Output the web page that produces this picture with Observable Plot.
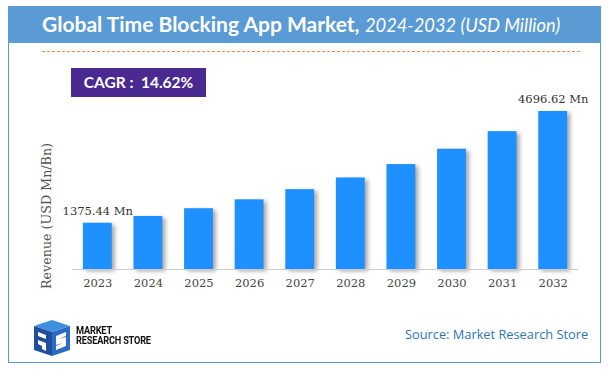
<!DOCTYPE html>
<html>
<head>
<meta charset="utf-8">
<script src="https://cdn.jsdelivr.net/npm/d3@7"></script>
<script src="https://cdn.jsdelivr.net/npm/@observablehq/plot@0.6"></script>
<style>
  html, body { margin: 0; padding: 0; background: #fff; }
  #page { position: relative; width: 608px; height: 374px; overflow: hidden; font-family: Lato, "Open Sans", sans-serif; }
  #frame { position: absolute; left: 8px; top: 6px; width: 591px; height: 356px; border: 1px solid #5b9bd5; border-top: none; box-sizing: content-box; }
  #titlebar { position: absolute; left: 8px; top: 6px; width: 593px; height: 37px; background: #5b9bd5; color: #fff; }
  #title { position: absolute; left: 34px; top: 5px; font-size: 21px; white-space: nowrap; }
  #title b { font-weight: 700; }
  #title i { font-weight: 400; font-size: 18.3px; }
  #dash { position: absolute; left: 42px; top: 51px; width: 538px; height: 0; border-top: 1.3px dashed #f0894a; }
  #cagr { position: absolute; left: 71px; top: 68px; width: 135px; height: 29px; background: #4a2a91; color: #fff; font-weight: 700; font-size: 15.5px; line-height: 29px; text-align: center; }
  #ylabel { position: absolute; left: 46px; top: 216px; transform: translate(-50%, -50%) rotate(-90deg); font-family: "DejaVu Serif", serif; font-size: 12.7px; color: #555; white-space: nowrap; }
  #chart { position: absolute; left: 0; top: 0; }
  #chart g[aria-label="bar"] rect { filter: drop-shadow(3px 2px 2px rgba(0,0,0,0.35)); }
  #source { position: absolute; left: 405px; top: 325px; font-size: 12.8px; color: #2e75b6; font-family: "Open Sans", sans-serif; white-space: nowrap; }
  #logotext { position: absolute; left: 76px; top: 326px; font-family: "Roboto", sans-serif; font-weight: 700; font-size: 10px; line-height: 10px; color: #111; letter-spacing: -0.2px; transform: scaleX(0.92); transform-origin: left; }
  #logo { position: absolute; left: 26px; top: 320px; }
</style>
</head>
<body>
<div id="page">
  <div id="frame"></div>
  <div id="titlebar"><div id="title"><b>Global Time Blocking App Market,</b> <i>2024-2032 (USD Million)</i></div></div>
  <div id="dash"></div>
  <div id="chart"></div>
  <div id="cagr">CAGR :&nbsp; 14.62%</div>
  <div id="ylabel">Revenue (USD Mn/Bn)</div>
  <svg id="logo" width="50" height="40" viewBox="0 0 50 40">
    <polygon points="8,6 26,0 44,6 26,12" fill="#3d8fe0"/>
    <polygon points="8,6 26,12 26,36 8,30" fill="#1f4f9c"/>
    <polygon points="26,12 44,6 44,30 26,36" fill="#2a6cc4"/>
    <path d="M12,12 L20,15 L20,19 L12,16 Z M12,20 L20,23 L20,31 L16,29 L16,26 L12,24 Z" fill="#fff"/>
    <path d="M30,16 L40,12 L40,16 L33,19 L40,17 L40,26 L30,30 L30,26 L37,23 L30,25 Z" fill="#fff"/>
  </svg>
  <div id="logotext">MARKET<br>RESEARCH STORE</div>
  <div id="source">Source: Market Research Store</div>
</div>
<script>
const years = ["2023","2024","2025","2026","2027","2028","2029","2030","2031","2032"];
const revenue = [1375.44, 1576, 1807, 2071, 2374, 2721, 3119, 3575, 4098, 4696.62];
const labelUnit = " Mn";

const data = years.map((y, i) => ({year: y, value: revenue[i], i}));
const labeled = data.filter(d => d.i === 0 || d.i === data.length - 1);

const chart = Plot.plot({
  width: 608,
  height: 374,
  marginLeft: 72,
  marginRight: 30,
  marginTop: 111,
  marginBottom: 105,
  style: {background: "transparent", fontFamily: "'DejaVu Serif', serif", fontSize: "11.5px", color: "#444"},
  x: {domain: years, paddingInner: 0.43, paddingOuter: 0.215, round: false, label: null},
  y: {domain: [0, 4696.62], axis: null},
  marks: [
    Plot.barY(data, {x: "year", y: "value", fill: "#1e90ff"}),
    Plot.ruleY([0], {stroke: "#cccccc", strokeWidth: 1}),
    Plot.axisX({tickSize: 0, tickPadding: 9, fill: "#444", fontSize: 11.5}),
    Plot.text(labeled, {x: "year", y: "value", text: d => d.value.toFixed(2) + labelUnit, dy: -12, fill: "#333", fontSize: 11.5})
  ]
});
document.getElementById("chart").appendChild(chart);
</script>
</body>
</html>
